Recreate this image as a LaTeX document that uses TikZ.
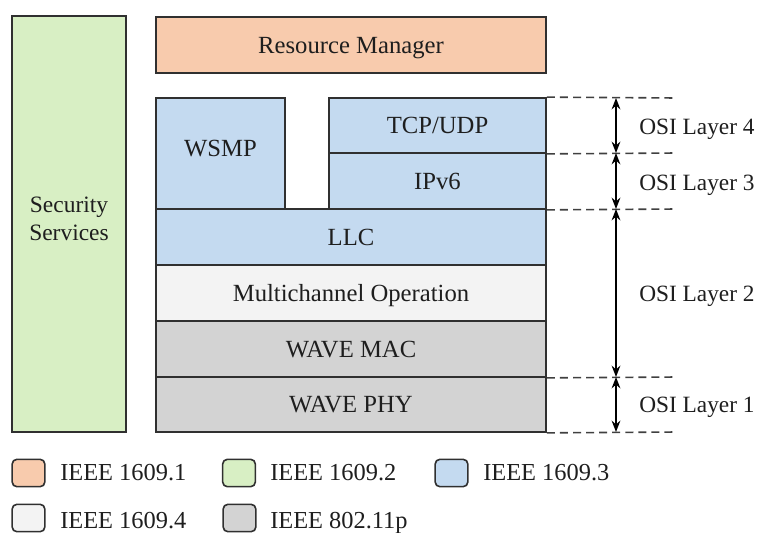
\documentclass[tikz,border=0pt]{standalone}
\usepackage{fontspec}
\setmainfont{Liberation Serif}
\usetikzlibrary{arrows.meta}

\definecolor{rmfill}{HTML}{F8CBAD}
\definecolor{secfill}{HTML}{D8EFC4}
\definecolor{netfill}{HTML}{C4DAF0}
\definecolor{mcfill}{HTML}{F3F3F3}
\definecolor{phyfill}{HTML}{D3D3D3}
\definecolor{edge}{HTML}{303030}
\definecolor{ink}{HTML}{1E1E1E}

\tikzset{
  blk/.style={draw=edge, line width=1.3pt, inner sep=0pt, fill=#1,
    font=\fontsize{18.5}{22}\selectfont, text=ink,
    text height=12.25pt, text depth=0pt},
  layerline/.style={draw=black!75, line width=1.2pt, dash pattern=on 6pt off 3.8pt},
  span/.style={line width=1.5pt, {Stealth[length=8.5pt,width=6.5pt]}-{Stealth[length=8.5pt,width=6.5pt]}},
  osi/.style={anchor=west, inner sep=0pt, font=\fontsize{17.5}{22}\selectfont, text=ink,
    text height=11.6pt, text depth=0pt},
  key/.style={draw=edge, line width=1.2pt, rounded corners=3.5pt, fill=#1,
    minimum width=24.5pt, minimum height=20.5pt, inner sep=0pt},
  keytext/.style={anchor=west, inner sep=0pt, font=\fontsize{18.3}{22}\selectfont, text=ink,
    text height=12.1pt, text depth=0pt},
}

\begin{document}
\begin{tikzpicture}[x=0.75pt, y=-0.75pt]
\useasboundingbox (0,0) rectangle (763,532);

% protocol stack blocks (1 unit = 1px, sizes in pt = 0.75 x px)
\node[blk=secfill, minimum width=85.5pt, minimum height=312pt] (sec) at (69,224) {};
\node[text=ink, font=\fontsize{17.6}{20.8}\selectfont, align=center, inner sep=0pt,
      text depth=0pt] (sectext) at (69,219) {Security\\Services};
\node[blk=rmfill, minimum width=292.5pt, minimum height=42pt] (rm) at (351,45) {Resource Manager};
\node[blk=netfill, minimum width=96.75pt, minimum height=83.25pt, text depth=7.5pt] (wsmp) at (220.5,153.5) {WSMP};
\node[blk=netfill, minimum width=162.75pt, minimum height=41.25pt] (tcp) at (437.5,125.5) {TCP/UDP};
\node[blk=netfill, minimum width=162.75pt, minimum height=42pt] (ipv6) at (437.5,181) {IPv6};
\node[blk=netfill, minimum width=292.5pt, minimum height=42pt] (llc) at (351,237) {LLC};
\node[blk=mcfill, minimum width=292.5pt, minimum height=42pt] (mc) at (351,293) {Multichannel Operation};
\node[blk=phyfill, minimum width=292.5pt, minimum height=42pt] (mac) at (351,349) {WAVE MAC};
\node[blk=phyfill, minimum width=292.5pt, minimum height=41.25pt] (phy) at (351,404.5) {WAVE PHY};

% layer boundaries
\coordinate (d4) at (677,98);
\coordinate (d3) at (677,153);
\coordinate (d2) at (677,209);
\coordinate (d1) at (677,377);
\coordinate (d0) at (677,432);
\draw[layerline] (tcp.north east) -- (d4);
\draw[layerline] (tcp.south east) -- (d3);
\draw[layerline] (ipv6.south east) -- (d2);
\draw[layerline] (mac.south east) -- (d1);
\draw[layerline] (phy.south east) -- (d0);

\coordinate (a4) at (616,98);
\coordinate (a3) at (616,153);
\coordinate (a2) at (616,209);
\coordinate (a1) at (616,377);
\coordinate (a0) at (616,432);
\draw[span] (a4) -- (a3);
\draw[span] (a3) -- (a2);
\draw[span] (a2) -- (a1);
\draw[span] (a1) -- (a0);

\node[osi] (l4) at (639,127) {OSI Layer 4};
\node[osi] (l3) at (639,183) {OSI Layer 3};
\node[osi] (l2) at (639,294) {OSI Layer 2};
\node[osi] (l1) at (639,405) {OSI Layer 1};

% legend
\node[key=rmfill] (k1) at (28.5,473) {};
\node[keytext] (t1) at (60,472) {IEEE 1609.1};
\node[key=secfill] (k2) at (239,473) {};
\node[keytext] (t2) at (270,472) {IEEE 1609.2};
\node[key=netfill] (k3) at (451.5,473) {};
\node[keytext] (t3) at (483,472) {IEEE 1609.3};
\node[key=mcfill] (k4) at (28.5,518) {};
\node[keytext] (t4) at (60,520.5) {IEEE 1609.4};
\node[key=phyfill] (k5) at (239.5,518) {};
\node[keytext] (t5) at (270,520.5) {IEEE 802.11p};
\end{tikzpicture}
\end{document}
